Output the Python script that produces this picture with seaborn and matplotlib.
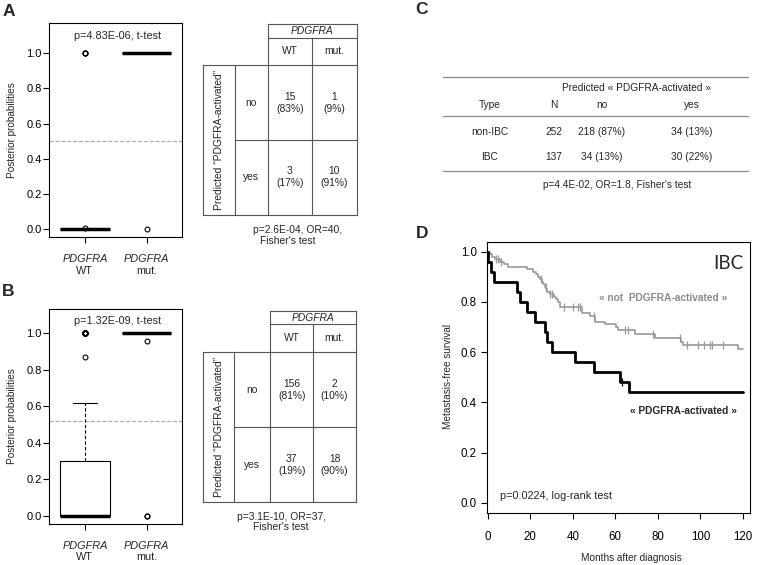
import numpy as np
import pandas as pd
import matplotlib
matplotlib.use("Agg")
import matplotlib.pyplot as plt
import matplotlib.transforms as mtransforms
import seaborn as sns

# ---------------- data ----------------
groups = ["WT", "mut."]

# A: posterior probabilities, PDGFRA WT vs mutated
wt_a = [0.0] * 14 + [0.005] + [1.0] * 3
mut_a = [1.0] * 10 + [0.0]

# B: posterior probabilities (WT given as value / count)
wt_b_vals = [0.0, 0.05, 0.1, 0.2, 0.3, 0.4, 0.45, 0.5, 0.55, 0.62, 0.87, 1.0]
wt_b_counts = [100, 15, 10, 12, 12, 3, 2, 2, 3, 1, 1, 32]
mut_b = [1.0] * 17 + [0.96] + [0.0] * 2

thr_a = 0.50
thr_b = 0.52
ptest_a = "p=4.83E-06, t-test"
ptest_b = "p=1.32E-09, t-test"

# contingency tables (rows: predicted no / yes, cols: WT / mut.)
pred_rows = ["no", "yes"]
counts_a = [[15, 1], [3, 10]]
pcts_a = [[83, 9], [17, 91]]
fisher_a = ["p=2.6E-04, OR=40,", "Fisher's test"]
counts_b = [[156, 2], [37, 18]]
pcts_b = [[81, 10], [19, 90]]
fisher_b = ["p=3.1E-10, OR=37,", "Fisher's test"]

# C: table
c_header = ["Type", "N", "no", "yes"]
c_types = ["non-IBC", "IBC"]
c_n = [252, 137]
c_no = ["218 (87%)", "34 (13%)"]
c_yes = ["34 (13%)", "30 (22%)"]
c_footer = "p=4.4E-02, OR=1.8, Fisher's test"

# D: Kaplan-Meier curves (IBC)
act_t = [0, 0.3, 1.8, 3.2, 13.8, 15.1, 18.7, 22.2, 26.8, 27.9, 30.1, 41.2, 49.8, 62.3, 66.2, 120]
act_s = [1.0, 0.96, 0.92, 0.88, 0.84, 0.80, 0.76, 0.72, 0.68, 0.64, 0.60, 0.56, 0.52, 0.48, 0.44, 0.44]
act_cens = [63.0]
not_t = [0, 1.0, 2.0, 3.5, 6.0, 7.5, 9.5, 18.6, 21.5, 22.5, 23.5, 24.5, 25.5, 26.0, 27.0, 27.5, 28.0,
         29.5, 31.0, 32.0, 33.0, 34.2, 44.4, 48.3, 50.6, 55.3, 60.3, 61.4, 69.4, 78.8, 91.0, 92.0, 117.8, 120]
not_s = [1.0, 0.99, 0.98, 0.97, 0.96, 0.95, 0.94, 0.93, 0.92, 0.91, 0.90, 0.89, 0.88, 0.87, 0.86, 0.85, 0.84,
         0.83, 0.82, 0.81, 0.80, 0.78, 0.757, 0.745, 0.722, 0.712, 0.70, 0.688, 0.672, 0.656, 0.641, 0.628, 0.611, 0.611]
not_cens = [4.0, 5.0, 6.5, 25.0, 27.2, 29.5, 30.3, 35.8, 40.0, 42.5, 43.5, 49.8, 64.7, 66.0, 77.7,
            90.5, 93.6, 98.8, 101.5, 104.6, 105.4, 110.6]

# ---------------- style ----------------
sns.set_style("ticks")
plt.rcParams["font.family"] = ["Liberation Sans", "DejaVu Sans"]
plt.rcParams["font.size"] = 7.5

W, H = 757, 565
fig = plt.figure(figsize=(W / 100, H / 100), dpi=100)


def frac(left, top, right, bottom):
    return [left / W, (H - bottom) / H, (right - left) / W, (bottom - top) / H]


def style_axes(ax, tick_len=4.3, xpad=2, ypad=1, size=8):
    for sp in ax.spines.values():
        sp.set_visible(True)
        sp.set_linewidth(0.8)
        sp.set_color("black")
    ax.tick_params(direction="out", length=tick_len, width=0.8, colors="black", labelsize=size)
    ax.tick_params(axis="x", pad=xpad)
    ax.tick_params(axis="y", pad=ypad)


def draw_box(ax, wt, mut, thr, ylim):
    df = pd.DataFrame({"group": ["WT"] * len(wt) + ["mut."] * len(mut), "prob": list(wt) + list(mut)})
    sns.boxplot(data=df, x="group", y="prob", order=groups, ax=ax, width=0.8,
                color="white", linecolor="black", linewidth=0.8,
                flierprops=dict(marker="o", markerfacecolor="none", markeredgecolor="black",
                                markersize=3.5, markeredgewidth=0.8),
                medianprops=dict(linewidth=2.5, color="black"),
                whiskerprops=dict(linestyle=(0, (3, 2))))
    ax.axhline(thr, color="#aaaaaa", ls="--", lw=0.8, zorder=0)
    ax.set_xlim(-0.58, 1.57)
    ax.set_ylim(*ylim)
    ax.set_yticks(np.arange(0, 1.01, 0.2))
    ax.set_yticklabels([f"{v:.1f}" for v in np.arange(0, 1.01, 0.2)])
    ax.set_xticks([0, 1])
    ax.set_xticklabels(["", ""])
    ax.set_xlabel("")
    ax.set_ylabel("")
    style_axes(ax)
    for i, g in enumerate(groups):
        t1 = mtransforms.offset_copy(ax.get_xaxis_transform(), fig=fig, y=-22, units="dots")
        t2 = mtransforms.offset_copy(ax.get_xaxis_transform(), fig=fig, y=-33.5, units="dots")
        ax.text(i, 0, "PDGFRA", style="italic", ha="center", va="center", transform=t1, fontsize=7.8)
        ax.text(i, 0, g, ha="center", va="center", transform=t2, fontsize=7.8)


# panel A
axA = fig.add_axes(frac(49, 23, 182, 237))
draw_box(axA, wt_a, mut_a, thr_a, (-0.044, 1.172))

# panel B
wt_b = [v for v, c in zip(wt_b_vals, wt_b_counts) for _ in range(c)]
axB = fig.add_axes(frac(49, 309.3, 182, 524))
draw_box(axB, wt_b, mut_b, thr_b, (-0.044, 1.131))

# panel D
axD = fig.add_axes(frac(487, 241.7, 750, 513))
df_not = pd.DataFrame({"t": not_t, "s": not_s})
df_act = pd.DataFrame({"t": act_t, "s": act_s})
sns.lineplot(data=df_not, x="t", y="s", ax=axD, drawstyle="steps-post", estimator=None, sort=False,
             color="#9a9a9a", lw=1.2)
sns.lineplot(data=df_act, x="t", y="s", ax=axD, drawstyle="steps-post", estimator=None, sort=False,
             color="black", lw=2.0)


def step_at(ts, ss, c):
    return np.array(ss)[np.searchsorted(ts, c, side="right") - 1]


axD.scatter(not_cens, step_at(not_t, not_s, not_cens), marker="|", s=30, color="#9a9a9a", linewidths=0.9)
axD.scatter(act_cens, step_at(act_t, act_s, act_cens), marker="|", s=30, color="black", linewidths=0.9)
axD.set_xlim(-0.3, 123.3)
axD.set_ylim(-0.04, 1.04)
axD.set_xticks(np.arange(0, 121, 20))
axD.set_yticks(np.arange(0, 1.01, 0.2))
axD.set_yticklabels([f"{v:.1f}" for v in np.arange(0, 1.01, 0.2)])
axD.set_xlabel("")
axD.set_ylabel("")
style_axes(axD, tick_len=4.3, xpad=8.5, ypad=3, size=8.3)

# ---------------- overlay: labels, tables ----------------
ov = fig.add_axes([0, 0, 1, 1])
ov.set_xlim(0, W)
ov.set_ylim(H, 0)
ov.axis("off")


def put(x, y, s, **kw):
    kw.setdefault("fontsize", 7.5)
    ov.text(x, y, s, ha="center", va="center", **kw)


for letter, (x, y) in zip("ABCD", [(8.5, 11), (8.5, 292), (422, 10), (422.5, 234)]):
    put(x, y, letter, fontsize=12.5, fontweight="bold")

put(12, 130, "Posterior probabilities", rotation=90, fontsize=7.2)
put(12, 416, "Posterior probabilities", rotation=90, fontsize=7.2)
put(118, 36, ptest_a, fontsize=7.8)
put(118, 320.7, ptest_b, fontsize=7.8)


def contingency(xs, ys, counts, pcts, footer, fpos):
    x0, x1, x2, x3, x4 = xs
    y0, y1, y2, y3, y4 = ys
    lk = dict(color="#555555", lw=0.8, solid_capstyle="projecting")
    ov.plot([x2, x4], [y0, y0], **lk)
    ov.plot([x2, x4], [y1, y1], **lk)
    ov.plot([x0, x4], [y2, y2], **lk)
    ov.plot([x1, x4], [y3, y3], **lk)
    ov.plot([x0, x4], [y4, y4], **lk)
    ov.plot([x2, x2], [y0, y4], **lk)
    ov.plot([x4, x4], [y0, y4], **lk)
    ov.plot([x3, x3], [y1, y4], **lk)
    ov.plot([x0, x0], [y2, y4], **lk)
    ov.plot([x1, x1], [y2, y4], **lk)
    put((x2 + x4) / 2, (y0 + y1) / 2, "PDGFRA", style="italic", fontsize=7.4)
    cx = [(x2 + x3) / 2, (x3 + x4) / 2]
    cy = [(y2 + y3) / 2, (y3 + y4) / 2]
    for j, g in enumerate(groups):
        put(cx[j], (y1 + y2) / 2, g, fontsize=7.4)
    put((x0 + x1) / 2, (y2 + y4) / 2, "Predicted \u201cPDGFRA-activated\u201d", rotation=90, fontsize=7.4)
    for i, r in enumerate(pred_rows):
        put((x1 + x2) / 2, cy[i], r, fontsize=7.4)
        for j in range(2):
            put(cx[j], cy[i], f"{counts[i][j]}\n({pcts[i][j]}%)", fontsize=7.4, linespacing=1.25)
    for (fx, fy), line in zip(fpos, footer):
        put(fx, fy, line, fontsize=7.4)


contingency([202.7, 235, 267.7, 311.7, 356.7], [24.3, 37.7, 65, 140, 215],
            counts_a, pcts_a, fisher_a, [(298, 230), (288, 240.5)])
contingency([202.7, 234.3, 270, 313.3, 355.7], [311, 324.3, 352.3, 427.3, 502.3],
            counts_b, pcts_b, fisher_b, [(282, 516.7), (281, 527.3)])

# panel C table
lc = dict(color="#8a8a8a", lw=0.9)
for y in (77.3, 115.7, 170.7):
    ov.plot([443.3, 748.3], [y, y], **lc)
put(636.7, 88.3, "Predicted \u00ab PDGFRA-activated \u00bb", fontsize=7.3)
c_x = [490, 554, 601.7, 691.7]
for x, h in zip(c_x, c_header):
    put(x, 105, h, fontsize=7.3)
for i, y in enumerate([131.7, 156.7]):
    for x, s in zip(c_x, [c_types[i], str(c_n[i]), c_no[i], c_yes[i]]):
        put(x, y, s, fontsize=7.3)
put(616.7, 185, c_footer, fontsize=7.3)

# panel D labels
put(447.7, 376.7, "Metastasis-free survival", rotation=90, fontsize=7.2)
put(631.7, 558.3, "Months after diagnosis", fontsize=7.2)
put(728.3, 263.3, "IBC", fontsize=13.5, family=["Lato", "DejaVu Sans"])
put(663.3, 298.3, "\u00ab not  PDGFRA-activated \u00bb", fontsize=7.3, fontweight="bold", color="#8c8c8c")
put(683.3, 410.7, "\u00ab PDGFRA-activated \u00bb", fontsize=7.3, fontweight="bold")
ov.text(500, 496, "p=0.0224, log-rank test", ha="left", va="center", fontsize=7.8)

fig.savefig("out.png", dpi=100)
